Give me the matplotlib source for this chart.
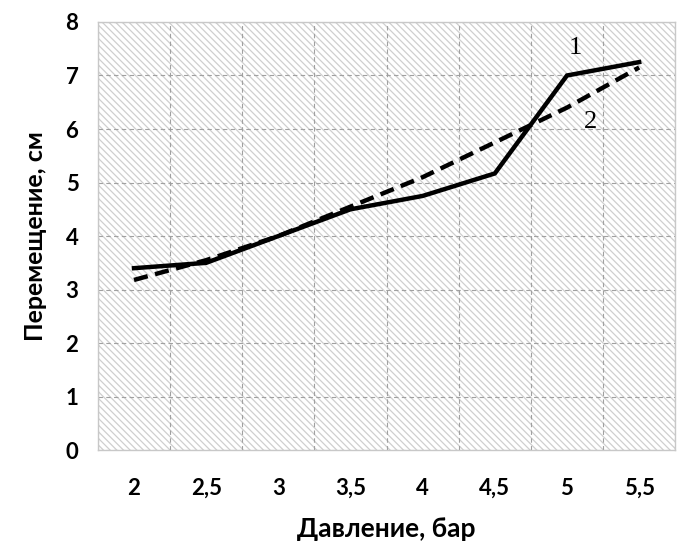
import matplotlib
matplotlib.use("Agg")
import matplotlib.pyplot as plt
import numpy as np
from matplotlib.patches import Rectangle

# data
pressure = ["2", "2,5", "3", "3,5", "4", "4,5", "5", "5,5"]
disp_1 = [3.4, 3.5, 4.0, 4.5, 4.75, 5.17, 7.0, 7.25]
disp_2 = [3.18, 3.55, 4.0, 4.55, 5.1, 5.75, 6.4, 7.15]
y_ticks = [0, 1, 2, 3, 4, 5, 6, 7, 8]

plt.rcParams['font.family'] = ['Lato', 'DejaVu Sans']
plt.rcParams['hatch.linewidth'] = 0.9

fig = plt.figure(figsize=(6.8, 5.49), dpi=100)
ax = fig.add_axes([0.144, 0.180, 0.849, 0.780])

x = np.arange(len(pressure))

# hatched background of the plot area
ax.add_patch(Rectangle((0, 0), 1, 1, transform=ax.transAxes, facecolor='white',
                       edgecolor='#cfcfcf', hatch='\\\\\\\\\\', lw=0, zorder=0))

ax.plot(x, disp_1, color='black', lw=3.2, solid_joinstyle='miter', zorder=3)
ax.plot(x, disp_2, color='black', lw=3.2, linestyle=(0, (3.2, 1.7)), zorder=3)

ax.text(6.12, 7.52, "1", family='Liberation Serif', fontsize=19, ha='center', va='center')
ax.text(6.32, 6.13, "2", family='Liberation Serif', fontsize=19, ha='center', va='center')

ax.set_xlim(-0.5, len(pressure) - 0.5)
ax.set_ylim(0, 8)
ax.set_xticks(x)
ax.set_xticklabels(pressure)
ax.set_yticks(y_ticks)
ax.set_xticks(np.arange(-0.5, len(pressure), 0.5), minor=True)

ax.grid(True, which='minor', axis='x', color='#a0a0a0', lw=0.8, linestyle=(0, (4, 3)))
ax.grid(True, which='major', axis='y', color='#a0a0a0', lw=0.8, linestyle=(0, (4, 3)))
ax.set_axisbelow(True)

ax.tick_params(axis='both', which='both', length=0)
ax.tick_params(axis='x', pad=20, labelsize=16)
ax.tick_params(axis='y', pad=14, labelsize=16)
for lab in ax.get_xticklabels() + ax.get_yticklabels():
    lab.set_fontweight('bold')

for s in ax.spines.values():
    s.set_color('#c8c8c8')
    s.set_linewidth(1.0)

ax.set_xlabel("Давление, бар", fontsize=19, fontweight='bold', labelpad=13)
ax.set_ylabel("Перемещение, см", fontsize=18, fontweight='bold', labelpad=13)

fig.savefig("out.png", dpi=100)
